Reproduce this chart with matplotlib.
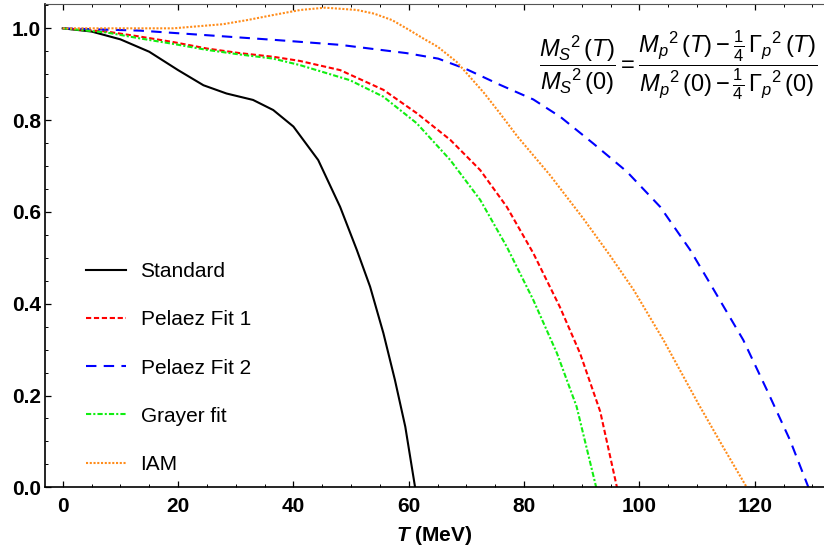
import numpy as np
import matplotlib
matplotlib.use('Agg')
import matplotlib.pyplot as plt
from matplotlib.ticker import MultipleLocator

plt.rcParams['font.family'] = ['Liberation Sans', 'DejaVu Sans']
plt.rcParams['mathtext.fontset'] = 'custom'
plt.rcParams['mathtext.rm'] = 'Liberation Sans'
plt.rcParams['mathtext.it'] = 'Liberation Sans:italic'
plt.rcParams['mathtext.bf'] = 'Liberation Sans:bold'
plt.rcParams['mathtext.bfit'] = 'Liberation Sans:italic:bold'

# Данные
T_std = [0, 5, 10, 15, 20, 24.4, 28.4, 33, 36.5, 40, 44.3, 48.1, 51.0, 53.3, 55.6, 57.6, 59.4, 61.1]
y_std = [1.0, 0.993, 0.976, 0.949, 0.909, 0.876, 0.858, 0.844, 0.822, 0.786, 0.713, 0.611, 0.517,
         0.437, 0.336, 0.234, 0.132, 0.0]

T_fit1 = [0, 7.6, 13.4, 19.2, 25, 30.7, 36.5, 41.1, 48.1, 55.6, 61.4, 67.2, 72.4, 77.0, 81.6, 86.2,
          89.7, 93.2, 96.1]
y_fit1 = [1.0, 0.993, 0.982, 0.970, 0.956, 0.946, 0.938, 0.929, 0.909, 0.866, 0.815, 0.757, 0.691,
          0.611, 0.51, 0.393, 0.292, 0.165, 0.0]

T_fit2 = [0, 13.4, 25, 36.5, 48.1, 59.6, 65.1, 70, 75.8, 81.6, 86.3, 92, 97.8, 103.6, 108.8, 112.2,
          118, 122.1, 126.1, 129.3]
y_fit2 = [1.0, 0.995, 0.985, 0.975, 0.964, 0.946, 0.934, 0.911, 0.877, 0.845, 0.807, 0.749, 0.688,
          0.611, 0.517, 0.445, 0.321, 0.212, 0.103, 0.0]

T_grayer = [0, 7.6, 13.4, 19.2, 25, 30.7, 36.5, 41.1, 49.8, 55.6, 61.4, 67.2, 72.4, 77.0, 81.6,
            85.7, 89.1, 92.5]
y_grayer = [1.0, 0.991, 0.978, 0.966, 0.953, 0.943, 0.934, 0.92, 0.887, 0.851, 0.793, 0.713, 0.626,
            0.524, 0.408, 0.292, 0.176, 0.0]

T_iam = [0, 10, 15, 19.2, 23, 27.8, 32, 36.5, 41.2, 45.5, 51, 54, 57.1, 60, 62.5, 65, 68.3, 73,
         75.8, 78.8, 84.5, 90.3, 94.9, 99, 104.2, 110.3, 114.5, 118.6]
y_iam = [1.0, 1.0, 1.0, 1.0, 1.004, 1.009, 1.018, 1.029, 1.04, 1.045, 1.04, 1.032, 1.018, 0.997,
         0.978, 0.96, 0.927, 0.86, 0.815, 0.765, 0.68, 0.585, 0.505, 0.43, 0.32, 0.18, 0.088, 0.0]

fig = plt.figure(figsize=(8.24, 5.54), dpi=100)
ax = fig.add_axes([45/824, 66.7/554, 779/824, 483.3/554])

ax.plot(T_std, y_std, color='black', lw=1.5, label='Standard')
ax.plot(T_fit1, y_fit1, color='#ff0000', lw=1.5, dashes=(2.5, 1.3), label='Pelaez Fit 1')
ax.plot(T_fit2, y_fit2, color='#0000ff', lw=1.5, dashes=(5, 3.5), label='Pelaez Fit 2')
ax.plot(T_grayer, y_grayer, color='#11ee11', lw=1.5, dashes=(2.5, 1, 1, 1), label='Grayer fit')
ax.plot(T_iam, y_iam, color='#ff8c1a', lw=1.5, dashes=(1, 0.8), label='IAM')

ax.set_xlim(-3.07, 132.0)
ax.set_ylim(0, 1.053)

ax.xaxis.set_major_locator(MultipleLocator(20))
ax.xaxis.set_minor_locator(MultipleLocator(5))
ax.yaxis.set_major_locator(MultipleLocator(0.2))
ax.yaxis.set_minor_locator(MultipleLocator(0.05))
ax.yaxis.set_major_formatter(matplotlib.ticker.FormatStrFormatter('%.1f'))

ax.tick_params(which='both', direction='in', top=True, right=False, labelsize=15)
ax.tick_params(which='major', length=4.5, width=0.9)
ax.tick_params(which='minor', length=2.2, width=0.7)
ax.tick_params(axis='x', pad=7)
ax.tick_params(axis='y', pad=3)
for lab in ax.get_xticklabels() + ax.get_yticklabels():
    lab.set_fontweight('bold')

ax.spines['right'].set_visible(False)
ax.spines['top'].set_color('#555555')
for s in ['left', 'bottom']:
    ax.spines[s].set_linewidth(1.2)

ax.set_xlabel(r'$\mathbfit{T}$ (MeV)', fontsize=15, fontweight='bold', labelpad=6)

ax.text(0.813, 0.874,
        r'$\dfrac{{M_S}^2\,\mathit{(T)}}{{M_S}^2\,\mathit{(0)}}='
        r'\dfrac{{M_p}^2\,\mathit{(T)}-\frac{1}{4}\,{\Gamma_p}^2\,\mathit{(T)}}'
        r'{{M_p}^2\,\mathit{(0)}-\frac{1}{4}\,{\Gamma_p}^2\,\mathit{(0)}}$',
        transform=ax.transAxes, fontsize=17, ha='center', va='center')

ax.legend(loc='lower left', bbox_to_anchor=(0.029, -0.011), frameon=False, fontsize=15,
          handlelength=1.9, handletextpad=0.7, labelspacing=1.4)

plt.savefig('out.png', dpi=100)
